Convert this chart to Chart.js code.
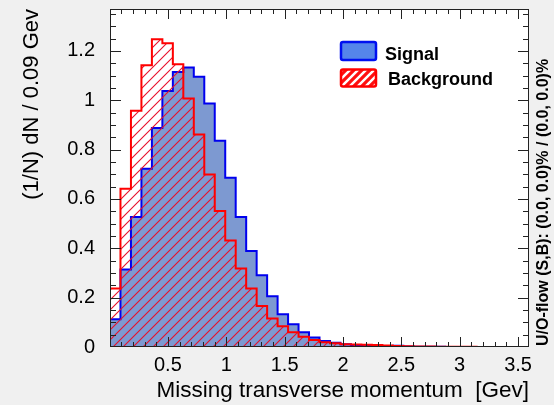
<!DOCTYPE html>
<html>
<head>
<meta charset="utf-8">
<script src="https://cdn.jsdelivr.net/npm/chart.js@4.4.1/dist/chart.umd.min.js"></script>
<style>
  body { margin: 0; background: #f0f0f0; }
  canvas { display: block; }
</style>
</head>
<body>
<canvas id="grafico" width="554" height="405"></canvas>
<script>
// histogramme : 40 bins a partir de xMin
const xMin = 0.004;
const binWidth = 0.08975;
const nBins = 40;

const signalValues = [0.112, 0.314, 0.527, 0.722, 0.888, 1.038, 1.115, 1.133, 1.095, 0.987,
  0.836, 0.686, 0.527, 0.389, 0.291, 0.206, 0.133, 0.092, 0.060, 0.038,
  0.024, 0.017, 0.011, 0.008, 0.006, 0.005, 0.004, 0.005, 0.002, 0.001,
  0.001, 0.001, 0, 0, 0, 0, 0, 0, 0, 0];

const backgroundValues = [0.237, 0.641, 0.958, 1.142, 1.247, 1.231, 1.146, 1.007, 0.861, 0.699,
  0.551, 0.432, 0.318, 0.237, 0.166, 0.116, 0.084, 0.060, 0.042, 0.028,
  0.019, 0.015, 0.011, 0.010, 0.009, 0.008, 0.006, 0.004, 0.003, 0.002,
  0.002, 0.001, 0.001, 0.001, 0.001, 0, 0, 0, 0, 0];

const xTicks = [0.5, 1, 1.5, 2, 2.5, 3, 3.5];
const yTicks = [0, 0.2, 0.4, 0.6, 0.8, 1, 1.2];
const yMax = 1.37;

const seriesNames = ["Signal", "Background"];
const xTitle = "Missing transverse momentum  [Gev]";
const yTitle = "(1/N) dN / 0.09 Gev";
const overflowText = "U/O-flow (S,B): (0.0, 0.0)% / (0.0, 0.0)%";

const xMax = xMin + nBins * binWidth;

function pasHisto(values) {
  const pts = [{ x: xMin, y: 0 }];
  values.forEach((v, i) => pts.push({ x: xMin + i * binWidth, y: v }));
  pts.push({ x: xMin + nBins * binWidth, y: values[values.length - 1] });
  return pts;
}

function hachures(color, s, lw, bg) {
  const c = document.createElement('canvas');
  c.width = s; c.height = s;
  const g = c.getContext('2d');
  if (bg) { g.fillStyle = bg; g.fillRect(0, 0, s, s); }
  g.strokeStyle = color;
  g.lineWidth = lw;
  g.beginPath();
  g.moveTo(0, s); g.lineTo(s, 0);
  g.moveTo(-s / 2, s / 2); g.lineTo(s / 2, -s / 2);
  g.moveTo(s / 2, s * 1.5); g.lineTo(s * 1.5, s / 2);
  g.stroke();
  return g.createPattern(c, 'repeat');
}

const ctx = document.getElementById('grafico').getContext('2d');
const hatchPlot = hachures('#e8102a', 10, 1.1, null);
const hatchLegend = hachures('#ff1010', 8, 3.2, '#ffffff');

Chart.defaults.font.family = "'Liberation Sans', Arial, sans-serif";
Chart.defaults.color = '#000';

const cadre = {
  id: 'cadre',
  beforeDraw(chart) {
    const { ctx, chartArea: a } = chart;
    ctx.save();
    ctx.fillStyle = '#ffffff';
    ctx.fillRect(a.left, a.top, a.right - a.left, a.bottom - a.top);
    ctx.restore();
  },
  afterDatasetsDraw(chart) {
    const { ctx, chartArea: a, scales: { x, y } } = chart;
    ctx.save();
    ctx.strokeStyle = '#222';
    ctx.lineWidth = 1;
    ctx.beginPath();
    for (let k = 1; k <= 35; k++) {
      const v = k * 0.1;
      const px = Math.round(x.getPixelForValue(v)) + 0.5;
      const len = k % 5 === 0 ? 10 : 5;
      ctx.moveTo(px, a.bottom); ctx.lineTo(px, a.bottom - len);
      ctx.moveTo(px, a.top); ctx.lineTo(px, a.top + len);
    }
    for (let k = 1; k <= 27; k++) {
      const v = k * 0.05;
      const py = Math.round(y.getPixelForValue(v)) + 0.5;
      const len = k % 4 === 0 ? 11 : 6;
      ctx.moveTo(a.left, py); ctx.lineTo(a.left + len, py);
      ctx.moveTo(a.right, py); ctx.lineTo(a.right - len, py);
    }
    ctx.stroke();
    ctx.strokeRect(Math.round(a.left) + 0.5, Math.round(a.top) + 0.5,
      Math.round(a.right - a.left) - 1, Math.round(a.bottom - a.top) - 1);
    ctx.restore();
  },
  afterDraw(chart) {
    const { ctx } = chart;
    ctx.save();
    // legende
    ctx.lineWidth = 2.5;
    ctx.fillStyle = '#5585ea';
    ctx.strokeStyle = '#0010f0';
    ctx.beginPath(); ctx.roundRect(341, 42, 35, 18, 2); ctx.fill(); ctx.stroke();
    ctx.fillStyle = hatchLegend;
    ctx.strokeStyle = '#ff0000';
    ctx.beginPath(); ctx.roundRect(341, 69.5, 35, 17, 2); ctx.fill(); ctx.stroke();
    ctx.fillStyle = '#000';
    ctx.font = "bold 18px 'Liberation Sans', Arial, sans-serif";
    ctx.textBaseline = 'alphabetic';
    ctx.textAlign = 'left';
    ctx.fillText(seriesNames[0], 385, 60);
    ctx.fillText(seriesNames[1], 388, 85);
    // texte de debordement
    ctx.font = "bold 16px 'Liberation Sans', Arial, sans-serif";
    ctx.translate(544, 346);
    ctx.rotate(-Math.PI / 2);
    ctx.textBaseline = 'middle';
    ctx.fillText(overflowText, 0, 0);
    ctx.restore();
  }
};

new Chart(ctx, {
  type: 'line',
  data: {
    datasets: [
      {
        label: seriesNames[0],
        data: pasHisto(signalValues),
        stepped: 'before',
        fill: 'origin',
        backgroundColor: '#7d99d1',
        borderColor: '#0000ee',
        borderWidth: 2,
        pointRadius: 0,
        order: 2
      },
      {
        label: seriesNames[1],
        data: pasHisto(backgroundValues),
        stepped: 'before',
        fill: 'origin',
        backgroundColor: hatchPlot,
        borderColor: '#ff0000',
        borderWidth: 2,
        pointRadius: 0,
        order: 1
      }
    ]
  },
  options: {
    responsive: false,
    animation: false,
    layout: { padding: { top: 9, right: 25, left: 0, bottom: 0 } },
    plugins: {
      legend: { display: false },
      tooltip: { enabled: false }
    },
    scales: {
      x: {
        type: 'linear',
        min: xMin,
        max: xMax,
        grid: { display: false },
        border: { display: false },
        afterBuildTicks: (s) => { s.ticks = xTicks.map(v => ({ value: v })); },
        afterFit: (s) => { s.height = 58; s.paddingLeft = 0; s.paddingRight = 0; },
        ticks: {
          font: { size: 20 },
          padding: -2,
          maxRotation: 0,
          autoSkip: false,
          callback: (v) => String(v)
        },
        title: {
          display: true,
          text: xTitle,
          align: 'end',
          font: { size: 22.5 },
          padding: { top: 0, bottom: 1 }
        }
      },
      y: {
        min: 0,
        max: yMax,
        grid: { display: false },
        border: { display: false },
        afterBuildTicks: (s) => { s.ticks = yTicks.map(v => ({ value: v })); },
        afterFit: (s) => { s.width = 110; s.paddingTop = 0; s.paddingBottom = 0; },
        ticks: {
          font: { size: 20 },
          padding: 7,
          autoSkip: false,
          callback: (v) => String(v)
        },
        title: {
          display: true,
          text: yTitle,
          align: 'end',
          font: { size: 22 },
          padding: { top: 19, bottom: 0 }
        }
      }
    }
  },
  plugins: [cadre]
});
</script>
</body>
</html>
